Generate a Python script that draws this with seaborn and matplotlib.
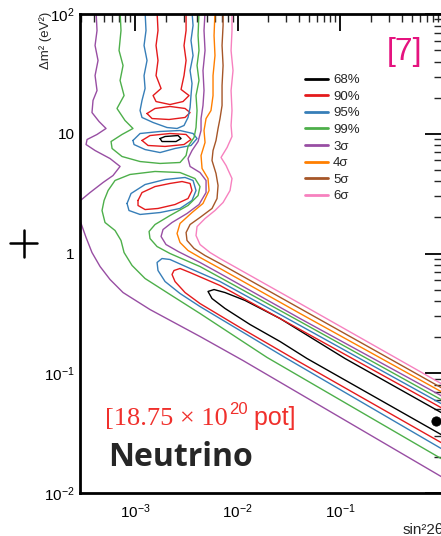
import numpy as np
import pandas as pd
import matplotlib
matplotlib.use("Agg")
import matplotlib.pyplot as plt
import seaborn as sns
from matplotlib.lines import Line2D
from matplotlib.ticker import FuncFormatter, LogLocator, NullFormatter

# ---------------- data (log10 sin^2 2theta, log10 dm^2) ----------------
LEVELS = ["68%", "90%", "95%", "99%", "3σ", "4σ", "5σ", "6σ"]
COLORS = ["#000000", "#e41a1c", "#377eb8", "#4daf4a", "#984ea3", "#ff7f00", "#a65628", "#f781bf"]

c68_island = [(-2.756, 0.960), (-2.707, 0.977), (-2.580, 0.985), (-2.551, 0.960), (-2.600, 0.935),
              (-2.737, 0.935), (-2.756, 0.960)]
c68_band = [(0.02, -1.344), (-0.951, -0.877), (-1.585, -0.543), (-1.927, -0.392), (-2.122, -0.326),
            (-2.229, -0.301), (-2.288, -0.317), (-2.249, -0.376), (-2.122, -0.459), (-1.878, -0.593),
            (-1.585, -0.735), (-1.322, -0.877), (0.02, -1.528)]

c90_top = [(-2.785, 2.02), (-2.776, 1.862), (-2.795, 1.737), (-2.776, 1.612), (-2.795, 1.486),
           (-2.746, 1.378), (-2.824, 1.319), (-2.795, 1.269), (-2.659, 1.244), (-2.532, 1.269),
           (-2.473, 1.319), (-2.551, 1.370), (-2.522, 1.486), (-2.502, 1.612), (-2.522, 1.737),
           (-2.502, 1.862), (-2.502, 2.02)]
c90_island2 = [(-2.883, 1.169), (-2.805, 1.211), (-2.659, 1.228), (-2.512, 1.211), (-2.463, 1.177),
               (-2.512, 1.136), (-2.668, 1.119), (-2.834, 1.127), (-2.883, 1.169)]
c90_island3 = [(-2.932, 0.944), (-2.854, 0.985), (-2.659, 1.002), (-2.502, 0.994), (-2.454, 0.952),
               (-2.522, 0.910), (-2.707, 0.894), (-2.873, 0.902), (-2.932, 0.944)]
c90_island4 = [(-2.971, 0.443), (-2.932, 0.509), (-2.805, 0.559), (-2.659, 0.585), (-2.541, 0.601),
               (-2.463, 0.585), (-2.444, 0.526), (-2.483, 0.459), (-2.610, 0.409), (-2.776, 0.376),
               (-2.902, 0.367), (-2.971, 0.401), (-2.971, 0.443)]
c90_band = [(0.02, -1.303), (-1.390, -0.635), (-2.171, -0.267), (-2.463, -0.159), (-2.561, -0.125),
            (-2.620, -0.142), (-2.639, -0.175), (-2.610, -0.234), (-2.512, -0.326), (-2.366, -0.418),
            (-1.976, -0.618), (-1.420, -0.894), (0.02, -1.595)]

c95_top = [(-2.902, 2.02), (-2.893, 1.862), (-2.912, 1.737), (-2.883, 1.612), (-2.912, 1.486),
           (-2.902, 1.378), (-2.932, 1.278), (-2.951, 1.194), (-2.932, 1.136), (-2.824, 1.094),
           (-2.688, 1.052), (-2.590, 1.044), (-2.522, 1.069), (-2.483, 1.136), (-2.463, 1.219),
           (-2.454, 1.319), (-2.444, 1.420), (-2.463, 1.528), (-2.434, 1.653), (-2.454, 1.779),
           (-2.434, 1.904), (-2.444, 2.02)]
c95_island3 = [(-3.020, 0.944), (-2.951, 1.002), (-2.756, 1.019), (-2.561, 1.027), (-2.434, 1.002),
               (-2.395, 0.960), (-2.454, 0.902), (-2.610, 0.877), (-2.756, 0.843), (-2.902, 0.868),
               (-3.010, 0.910), (-3.020, 0.944)]
c95_island4 = [(-3.078, 0.418), (-3.039, 0.501), (-2.902, 0.576), (-2.707, 0.618), (-2.512, 0.635),
               (-2.434, 0.610), (-2.405, 0.526), (-2.444, 0.443), (-2.561, 0.376), (-2.756, 0.342),
               (-2.951, 0.326), (-3.059, 0.359), (-3.078, 0.418)]
c95_band = [(0.02, -1.269), (-1.390, -0.601), (-2.171, -0.234), (-2.463, -0.125), (-2.659, -0.050),
            (-2.737, -0.042), (-2.785, -0.075), (-2.776, -0.142), (-2.707, -0.234), (-2.561, -0.334),
            (-2.366, -0.443), (-1.976, -0.643), (-1.537, -0.868), (0.02, -1.645)]

c99_top = [(-3.146, 2.02), (-3.137, 1.862), (-3.156, 1.695), (-3.117, 1.570), (-3.146, 1.445),
           (-3.107, 1.319), (-3.176, 1.211), (-3.098, 1.111), (-3.020, 1.044), (-3.127, 0.994),
           (-3.234, 0.935), (-3.224, 0.877), (-3.127, 0.810), (-2.951, 0.768), (-2.756, 0.752),
           (-2.561, 0.760), (-2.502, 0.818), (-2.483, 0.894), (-2.424, 0.969), (-2.405, 1.052),
           (-2.395, 1.194), (-2.405, 1.319), (-2.376, 1.445), (-2.395, 1.570), (-2.376, 1.695),
           (-2.385, 1.820), (-2.376, 2.02)]
c99_band = [(0.02, -1.236), (-1.390, -0.568), (-2.171, -0.200), (-2.366, -0.109), (-2.659, 0.000),
            (-2.785, 0.058), (-2.854, 0.125), (-2.863, 0.184), (-2.805, 0.242), (-2.659, 0.317),
            (-2.483, 0.401), (-2.385, 0.484), (-2.366, 0.559), (-2.415, 0.626), (-2.561, 0.676),
            (-2.805, 0.685), (-3.049, 0.660), (-3.195, 0.610), (-3.263, 0.526), (-3.302, 0.443),
            (-3.322, 0.359), (-3.293, 0.259), (-3.195, 0.192), (-3.137, 0.109), (-3.107, 0.008),
            (-3.029, -0.100), (-2.902, -0.209), (-2.659, -0.342), (-2.366, -0.501), (-1.712, -0.868),
            (0.02, -1.729)]

s3_left = [(-3.380, 2.02), (-3.371, 1.862), (-3.390, 1.737), (-3.361, 1.612), (-3.390, 1.486),
           (-3.371, 1.361), (-3.410, 1.278), (-3.420, 1.177), (-3.351, 1.102), (-3.283, 1.044),
           (-3.371, 0.994), (-3.468, 0.952), (-3.478, 0.910), (-3.390, 0.860), (-3.244, 0.793),
           (-3.146, 0.727), (-3.215, 0.651), (-3.312, 0.593), (-3.439, 0.509), (-3.556, 0.426)]
s3_low = [(-3.556, 0.317), (-3.537, 0.276), (-3.478, 0.134), (-3.420, 0.008), (-3.341, -0.109),
          (-3.244, -0.217), (-3.117, -0.326), (-2.854, -0.468), (-2.366, -0.693), (-1.946, -0.894),
          (0.02, -1.879)]
s3_right = [(0.02, -1.203), (-1.390, -0.543), (-2.171, -0.167), (-2.366, -0.075), (-2.580, 0.017),
            (-2.698, 0.075), (-2.746, 0.142), (-2.727, 0.200), (-2.639, 0.259), (-2.493, 0.334),
            (-2.376, 0.409), (-2.307, 0.509), (-2.307, 0.610), (-2.366, 0.676), (-2.463, 0.727),
            (-2.483, 0.793), (-2.444, 0.860), (-2.385, 0.935), (-2.356, 1.027), (-2.356, 1.127),
            (-2.337, 1.236), (-2.327, 1.361), (-2.337, 1.528), (-2.317, 1.695), (-2.327, 1.862),
            (-2.317, 2.02)]

s4_line = [(0.02, -1.169), (-1.390, -0.501), (-2.171, -0.125), (-2.366, -0.033), (-2.483, 0.025),
           (-2.561, 0.092), (-2.590, 0.167), (-2.561, 0.251), (-2.444, 0.342), (-2.337, 0.418),
           (-2.278, 0.526), (-2.288, 0.626), (-2.346, 0.710), (-2.356, 0.818), (-2.317, 0.927),
           (-2.327, 1.027), (-2.307, 1.127), (-2.259, 1.194), (-2.239, 1.319), (-2.239, 1.486),
           (-2.220, 1.653), (-2.229, 1.820), (-2.220, 2.02)]
s5_line = [(0.02, -1.136), (-1.390, -0.459), (-2.171, -0.084), (-2.317, -0.017), (-2.424, 0.042),
           (-2.493, 0.109), (-2.502, 0.175), (-2.463, 0.242), (-2.366, 0.301), (-2.249, 0.376),
           (-2.200, 0.459), (-2.190, 0.568), (-2.210, 0.668), (-2.249, 0.777), (-2.239, 0.860),
           (-2.210, 0.944), (-2.190, 1.044), (-2.171, 1.127), (-2.151, 1.236), (-2.151, 1.403),
           (-2.141, 1.570), (-2.151, 1.737), (-2.141, 1.904), (-2.141, 2.02)]
s6_line = [(0.02, -1.102), (-1.390, -0.418), (-2.171, -0.042), (-2.268, 0.008), (-2.366, 0.075),
           (-2.405, 0.150), (-2.395, 0.225), (-2.317, 0.292), (-2.220, 0.359), (-2.141, 0.426),
           (-2.073, 0.526), (-2.054, 0.626), (-2.112, 0.735), (-2.161, 0.802), (-2.102, 0.885),
           (-2.054, 0.977), (-2.063, 1.069), (-2.054, 1.194), (-2.063, 1.361), (-2.044, 1.528),
           (-2.063, 1.695), (-2.054, 1.862), (-2.054, 2.02)]

SEGMENTS = {
    "68%": [c68_island, c68_band],
    "90%": [c90_top, c90_island2, c90_island3, c90_island4, c90_band],
    "95%": [c95_top, c95_island3, c95_island4, c95_band],
    "99%": [c99_top, c99_band],
    "3σ": [s3_left, s3_low, s3_right],
    "4σ": [s4_line],
    "5σ": [s5_line],
    "6σ": [s6_line],
}

BEST_FIT = (0.86, 0.040)
X_TICKS = [1e-3, 1e-2, 1e-1]
Y_TICKS = [1e-2, 1e-1, 1, 10, 100]

# ---------------- figure ----------------
sns.set_style("white")
plt.rcParams["font.family"] = ["Liberation Sans", "DejaVu Sans"]
plt.rcParams["mathtext.fontset"] = "custom"
plt.rcParams["mathtext.rm"] = "Liberation Sans"
plt.rcParams["mathtext.it"] = "Liberation Sans:italic"
plt.rcParams["mathtext.bf"] = "Liberation Sans:bold"

W, H = 441, 536
fig = plt.figure(figsize=(W / 100, H / 100), dpi=100)
ax = fig.add_axes([80 / W, 1 - 493 / H, 362.5 / W, 479 / H])

for level, color in zip(LEVELS, COLORS):
    for seg in SEGMENTS[level]:
        arr = np.array(seg)
        df = pd.DataFrame({"sin2": 10 ** arr[:, 0], "dm2": 10 ** arr[:, 1]})
        sns.lineplot(data=df, x="sin2", y="dm2", sort=False, estimator=None,
                     color=color, lw=1.0, ax=ax, legend=False)

sns.scatterplot(x=[BEST_FIT[0]], y=[BEST_FIT[1]], color="black", s=45, ax=ax,
                edgecolor="black", zorder=5, legend=False)

ax.set_xscale("log")
ax.set_yscale("log")
ax.set_xlim(10 ** -3.537, 1.0)
ax.set_ylim(1e-2, 1e2)
ax.set_xlabel("")
ax.set_ylabel("")

for s in ["left", "top", "bottom", "right"]:
    ax.spines[s].set_linewidth(2.0)
    ax.spines[s].set_color("black")


def yfmt(v, pos):
    e = int(round(np.log10(v)))
    if e == 0:
        return "1"
    if e == 1:
        return "10"
    return r"$10^{%d}$" % e


def xfmt(v, pos):
    e = int(round(np.log10(v)))
    if e >= 0:
        return ""
    return r"$10^{%d}$" % e


ax.set_xticks(X_TICKS)
ax.set_yticks(Y_TICKS)
ax.xaxis.set_minor_locator(LogLocator(base=10, subs=np.arange(2, 10), numticks=20))
ax.yaxis.set_minor_locator(LogLocator(base=10, subs=np.arange(2, 10), numticks=20))
ax.xaxis.set_major_formatter(FuncFormatter(xfmt))
ax.yaxis.set_major_formatter(FuncFormatter(yfmt))
ax.xaxis.set_minor_formatter(NullFormatter())
ax.yaxis.set_minor_formatter(NullFormatter())
ax.tick_params(which="major", direction="in", length=12, width=1.3, top=True, right=True,
               labelsize=11, colors="black")
ax.tick_params(which="minor", direction="in", length=6, width=1.0, top=True, right=True)
ax.tick_params(axis="x", which="major", pad=7)
ax.tick_params(axis="y", which="major", pad=4)

# legend
handles = [Line2D([], [], color=c, lw=2.0) for c in COLORS]
ax.legend(handles, LEVELS, loc="upper left", bbox_to_anchor=(305 / W, 1 - 74 / H),
          bbox_transform=fig.transFigure, frameon=False, fontsize=9.5,
          handlelength=1.75, handletextpad=0.38, labelspacing=0.33, borderpad=0,
          borderaxespad=0)

# axis labels
fig.text(46 / W, 1 - 40 / H, "Δm² (eV²)", rotation=90, ha="center", va="center", fontsize=9.5)
fig.text(403 / W, 1 - 530 / H, "sin²2θ", ha="left", va="center", fontsize=11)

# annotations
fig.text(387 / W, 1 - 60 / H, "[7]", color="#e5137f", fontsize=23, ha="left", va="baseline")
fig.text(108 / W, 1 - 466 / H, "Neutrino", family=["Open Sans", "DejaVu Sans"],
         fontweight="bold", fontsize=23, ha="left", va="baseline")

red = "#f0302c"
fig.canvas.draw()
r = fig.canvas.get_renderer()
t1 = fig.text(105 / W, 1 - 425 / H, "[18.75 × 10", family=["Liberation Serif", "DejaVu Serif"],
              color=red, fontsize=19, ha="left", va="baseline")
x1 = t1.get_window_extent(r).x1
t2 = fig.text(x1 / W + 1 / W, 1 - 414 / H, "20", color=red, fontsize=12, ha="left", va="baseline")
x2 = t2.get_window_extent(r).x1
fig.text(x2 / W, 1 - 425 / H, " pot]", color=red, fontsize=18, ha="left", va="baseline")

# stray plus marker at the left
fig.add_artist(Line2D([10 / W, 37 / W], [1 - 243 / H, 1 - 243 / H], color="black", lw=1.8))
fig.add_artist(Line2D([23.5 / W, 23.5 / W], [1 - 230 / H, 1 - 257 / H], color="black", lw=1.8))

fig.savefig("out.png", dpi=100)
